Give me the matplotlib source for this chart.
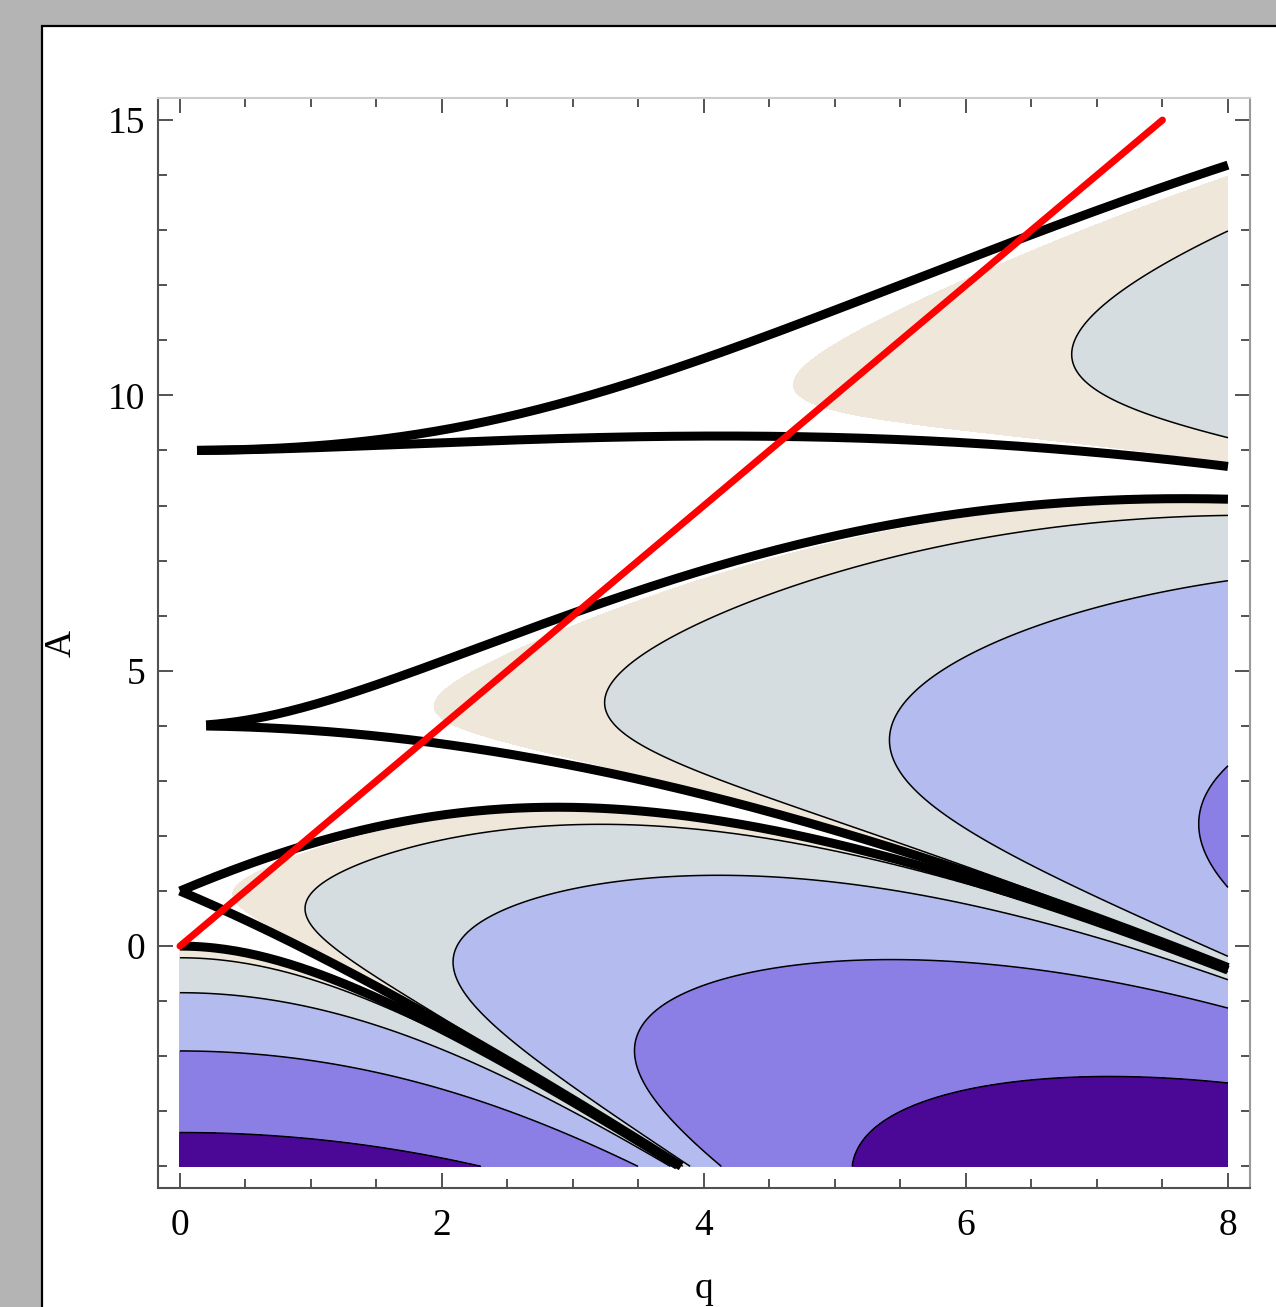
import numpy as np
import matplotlib.pyplot as plt
from matplotlib.patches import Rectangle
from matplotlib.ticker import MultipleLocator

# Mathieu equation  x'' + (A - 2 q cos 2t) x = 0 , stability chart in the (q, A) plane
q_range = [0.0, 8.0]
a_range = [-4.0, 15.0]
n_q, n_a = 401, 476

# growth-rate bands (shaded) and thin contour lines between them
band_levels = [0.20, 0.46, 0.92, 1.38, 1.84, 10.0]
band_colors = ['#efe7d9', '#d6dde0', '#b4bbee', '#8b7fe6', '#4b0896']
line_levels = [0.46, 0.92, 1.38, 1.84]

# characteristic curves (black): name, family, index, first q drawn
curves = ['a0', 'b1', 'a1', 'b2', 'a2', 'b3', 'a3']
curve_family = ['ce_even', 'se_odd', 'ce_odd', 'se_even', 'ce_even', 'se_odd', 'ce_odd']
curve_index = [0, 0, 0, 0, 1, 1, 1]
curve_start_q = [0.0, 0.0, 0.0, 0.2, 0.2, 0.13, 0.13]

# red line A = 2q
red_q = [0.0, 7.5]
red_a = [0.0, 15.0]

x_ticks = [0, 2, 4, 6, 8]
y_ticks = [0, 5, 10, 15]

plt.rcParams['font.family'] = ['Liberation Serif', 'DejaVu Serif']

q = np.linspace(q_range[0], q_range[1], n_q)
a = np.linspace(a_range[0], a_range[1], n_a)
Q, A = np.meshgrid(q, a)


def coef(t):
    return A - 2 * Q * np.cos(2 * t)


def rk4(y, v, c0, c1, c2, h):
    k1y = v
    k1v = -c0 * y
    k2y = v + h / 2 * k1v
    k2v = -c1 * (y + h / 2 * k1y)
    k3y = v + h / 2 * k2v
    k3v = -c1 * (y + h / 2 * k2y)
    k4y = v + h * k3v
    k4v = -c2 * (y + h * k3y)
    y = y + h / 6 * (k1y + 2 * k2y + 2 * k3y + k4y)
    v = v + h / 6 * (k1v + 2 * k2v + 2 * k3v + k4v)
    return y, v


# fundamental solutions over half a period (pi/2)
steps = 160
h = (np.pi / 2) / steps
y1, v1 = np.ones_like(Q), np.zeros_like(Q)
y2, v2 = np.zeros_like(Q), np.ones_like(Q)
for i in range(steps):
    t = i * h
    c0, c1, c2 = coef(t), coef(t + h / 2), coef(t + h)
    y1, v1 = rk4(y1, v1, c0, c1, c2, h)
    y2, v2 = rk4(y2, v2, c0, c1, c2, h)

D = 2 * y1 * v2 - 1          # half trace of the monodromy matrix
mu = np.arccosh(np.maximum(np.abs(D), 1.0)) / np.pi   # growth rate


# characteristic values from the Fourier (tridiagonal) matrices
def char_values(qq, family, n=25):
    k = np.arange(n)
    if family == 'ce_even':
        d = (2.0 * k) ** 2
    elif family == 'se_even':
        d = (2.0 * (k + 1)) ** 2
    else:
        d = (2.0 * k + 1) ** 2
    out = []
    for qv in qq:
        m = np.diag(d) + np.diag(np.full(n - 1, qv), 1) + np.diag(np.full(n - 1, qv), -1)
        if family == 'ce_even':
            m[0, 1] = m[1, 0] = np.sqrt(2) * qv
        elif family == 'ce_odd':
            m[0, 0] += qv
        elif family == 'se_odd':
            m[0, 0] -= qv
        out.append(np.linalg.eigvalsh(m))
    return np.array(out)


fig = plt.figure(figsize=(12.76, 13.07), dpi=100)
fig.patch.set_facecolor('#b4b4b4')
fig.add_artist(Rectangle((0.0329, -0.02), 1.0, 1.0001, transform=fig.transFigure,
                         facecolor='white', edgecolor='black', lw=1.6, zorder=-1))

ax = fig.add_axes([0.1238, 0.0910, 0.8558, 0.8340])
ax.contourf(Q, A, mu, levels=band_levels, colors=band_colors)
ax.contour(Q, A, mu, levels=line_levels, colors='k', linewidths=1.1)

for name, fam, idx, q0 in zip(curves, curve_family, curve_index, curve_start_q):
    qc = np.linspace(q0, q_range[1], 300)
    ac = char_values(qc, fam)[:, idx]
    ac = np.ma.masked_less(ac, a_range[0])
    ax.plot(qc, ac, color='k', lw=6.5, solid_capstyle='butt')

ax.plot(red_q, red_a, color='#ff0000', lw=5, solid_capstyle='round', zorder=5)

ax.set_xlim(-0.168, 8.168)
ax.set_ylim(-4.394, 15.40)
ax.set_xticks(x_ticks)
ax.set_yticks(y_ticks)
ax.xaxis.set_minor_locator(MultipleLocator(0.5))
ax.yaxis.set_minor_locator(MultipleLocator(1))
ax.tick_params(which='both', direction='in', top=True, right=True,
               color='#444444', width=1.3, labelsize=27)
ax.tick_params(which='major', length=11)
ax.tick_params(which='minor', length=6.5)
ax.tick_params(axis='x', pad=15)
ax.tick_params(axis='y', pad=9)

for side, col in [('left', '#505050'), ('bottom', '#505050'),
                  ('top', '#cccccc'), ('right', '#999999')]:
    ax.spines[side].set_color(col)
    ax.spines[side].set_linewidth(1.5)

ax.set_xlabel('q', fontsize=27, labelpad=20)
ax.set_ylabel('A', fontsize=27, labelpad=21)

fig.savefig('out.png', dpi=100)
